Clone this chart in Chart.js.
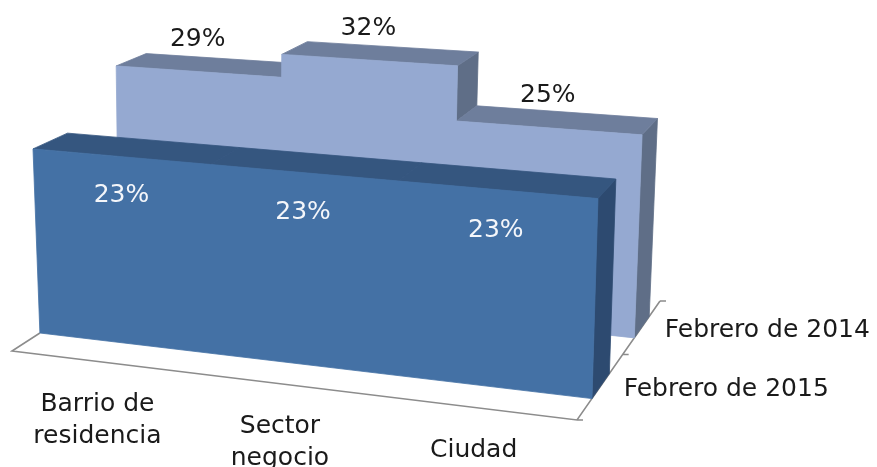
<!DOCTYPE html>
<html>
<head>
<meta charset="utf-8">
<script src="https://cdn.jsdelivr.net/npm/chart.js@4.4.0/dist/chart.umd.min.js"></script>
<style>
  html, body { margin: 0; padding: 0; background: #fff; }
  #wrap { width: 877px; height: 467px; }
</style>
</head>
<body>
<div id="wrap"><canvas id="chart"></canvas></div>
<script>
// Data
const categories = [['Barrio de', 'residencia'], ['Sector', 'negocio'], 'Ciudad'];
const seriesNames = ['Febrero de 2015', 'Febrero de 2014'];
const values2015 = [23, 23, 23];
const values2014 = [29, 32, 25];
const valueMax = 35;

// Face colours for each wall (front, top, side)
const wallColors = [
    { front: '#4471a5', top: '#35567f', side: '#2d4a70' },
    { front: '#95a9d1', top: '#6e7e9c', side: '#5f6e87' }
];
// depth slot of each wall (0 = floor front edge, 1 = floor back edge)
const wallDepth = [[0.18, 0.39], [0.69, 0.87]];

// Screen corners of the 3d box, key = u v w
const corner = {
    '000': [12, 351], '100': [577, 420], '001': [167, 251], '101': [660, 301],
    '010': [-1, 64], '110': [585.5, 108.5], '011': [168, 2], '111': [672, 29]
};
const uWarp = -0.085; // a bit of perspective along the category axis

const FONT = '25px "DejaVu Sans", sans-serif';

function lerp(a, b, t) {
    return [a[0] + (b[0] - a[0]) * t, a[1] + (b[1] - a[1]) * t];
}

function proj(u, v, w) {
    u = u * (1 + uWarp) / (1 + uWarp * u);
    const a = lerp(corner['000'], corner['100'], u);
    const b = lerp(corner['010'], corner['110'], u);
    const c = lerp(corner['001'], corner['101'], u);
    const d = lerp(corner['011'], corner['111'], u);
    return lerp(lerp(a, b, v), lerp(c, d, v), w);
}

function poly(ctx, pts, color) {
    ctx.beginPath();
    pts.forEach((p, i) => i ? ctx.lineTo(p[0], p[1]) : ctx.moveTo(p[0], p[1]));
    ctx.closePath();
    ctx.fillStyle = color;
    ctx.strokeStyle = color;
    ctx.lineWidth = 0.8;
    ctx.fill();
    ctx.stroke();
}

// turn bar elements into normalised segments
function segments(chart, index) {
    const area = chart.chartArea;
    const meta = chart.getDatasetMeta(index);
    return meta.data.map(bar => {
        const p = bar.getProps(['x', 'y', 'width'], true);
        return {
            u0: (p.x - p.width / 2 - area.left) / area.width,
            u1: (p.x + p.width / 2 - area.left) / area.width,
            uc: (p.x - area.left) / area.width,
            v: (area.bottom - p.y) / area.height
        };
    });
}

function drawWall(ctx, segs, depth, col) {
    const w0 = depth[0], w1 = depth[1];
    segs.forEach((s, i) => {
        const next = segs[i + 1];
        const low = next ? next.v : 0;
        if (s.v - low > 1e-4) {
            poly(ctx, [proj(s.u1, low, w0), proj(s.u1, s.v, w0), proj(s.u1, s.v, w1), proj(s.u1, low, w1)], col.side);
        }
        poly(ctx, [proj(s.u0, s.v, w0), proj(s.u1, s.v, w0), proj(s.u1, s.v, w1), proj(s.u0, s.v, w1)], col.top);
    });
    // front face as one stepped outline, so there are no seams
    const pts = [proj(segs[0].u0, 0, w0), proj(segs[segs.length - 1].u1, 0, w0)];
    for (let i = segs.length - 1; i >= 0; i--) {
        pts.push(proj(segs[i].u1, segs[i].v, w0));
        pts.push(proj(segs[i].u0, segs[i].v, w0));
    }
    poly(ctx, pts, col.front);
}

const wall3d = {
    id: 'wall3d',
    afterDatasetsDraw(chart) {
        const ctx = chart.ctx;
        const area = chart.chartArea;
        const yScale = chart.scales.y;
        ctx.save();

        // floor outline and depth axis
        ctx.strokeStyle = '#8c8c8c';
        ctx.lineWidth = 1.6;
        ctx.beginPath();
        let p = proj(0, 0, wallDepth[0][0]);
        ctx.moveTo(p[0], p[1]);
        p = proj(0, 0, 0); ctx.lineTo(p[0], p[1]);
        p = proj(1, 0, 0); ctx.lineTo(p[0], p[1]);
        p = proj(1, 0, 1); ctx.lineTo(p[0], p[1]);
        [0, 0.55, 1].forEach(w => {
            const t = proj(1, 0, w);
            ctx.moveTo(t[0], t[1]);
            ctx.lineTo(t[0] + 6, t[1]);
        });
        ctx.stroke();

        const front = segments(chart, 0);
        const back = segments(chart, 1);
        drawWall(ctx, back, wallDepth[1], wallColors[1]);
        drawWall(ctx, front, wallDepth[0], wallColors[0]);

        ctx.font = FONT;
        ctx.textAlign = 'center';
        ctx.textBaseline = 'middle';

        // value labels, back wall above the top, front wall inside
        back.forEach((s, i) => {
            const q = proj(s.uc, s.v, wallDepth[1][0]);
            ctx.fillStyle = '#1a1a1a';
            ctx.fillText(values2014[i] + '%', q[0], q[1] - 32);
        });
        front.forEach((s, i) => {
            const v = (area.bottom - yScale.getPixelForValue(values2015[i] - 4.8)) / area.height;
            const q = proj(s.uc, v, wallDepth[0][0]);
            ctx.fillStyle = '#f4f6fa';
            ctx.fillText(values2015[i] + '%', q[0], q[1]);
        });

        // category labels under the floor edge
        ctx.fillStyle = '#1a1a1a';
        front.forEach((s, i) => {
            const q = proj(s.uc, 0, 0);
            const lines = [].concat(categories[i]);
            lines.forEach((t, k) => ctx.fillText(t, q[0] - 2, q[1] + 43 + k * 32));
        });

        // series labels along the depth axis
        ctx.textAlign = 'left';
        wallDepth.forEach((d, i) => {
            const q = proj(1, 0, (d[0] + d[1]) / 2);
            ctx.fillText(seriesNames[i], q[0] + 23, q[1] + 3);
        });

        ctx.restore();
    }
};

const ctx = document.getElementById('chart').getContext('2d');
new Chart(ctx, {
    type: 'bar',
    data: {
        labels: categories,
        datasets: [
            { label: seriesNames[0], data: values2015, grouped: false, backgroundColor: 'rgba(0,0,0,0)' },
            { label: seriesNames[1], data: values2014, grouped: false, backgroundColor: 'rgba(0,0,0,0)' }
        ]
    },
    options: {
        responsive: true,
        maintainAspectRatio: false,
        animation: false,
        layout: { padding: 0 },
        datasets: { bar: { categoryPercentage: 1, barPercentage: 1 } },
        plugins: { legend: { display: false }, tooltip: { enabled: false } },
        scales: {
            x: { display: false },
            y: { display: false, min: 0, max: valueMax }
        }
    },
    plugins: [wall3d]
});
</script>
</body>
</html>
